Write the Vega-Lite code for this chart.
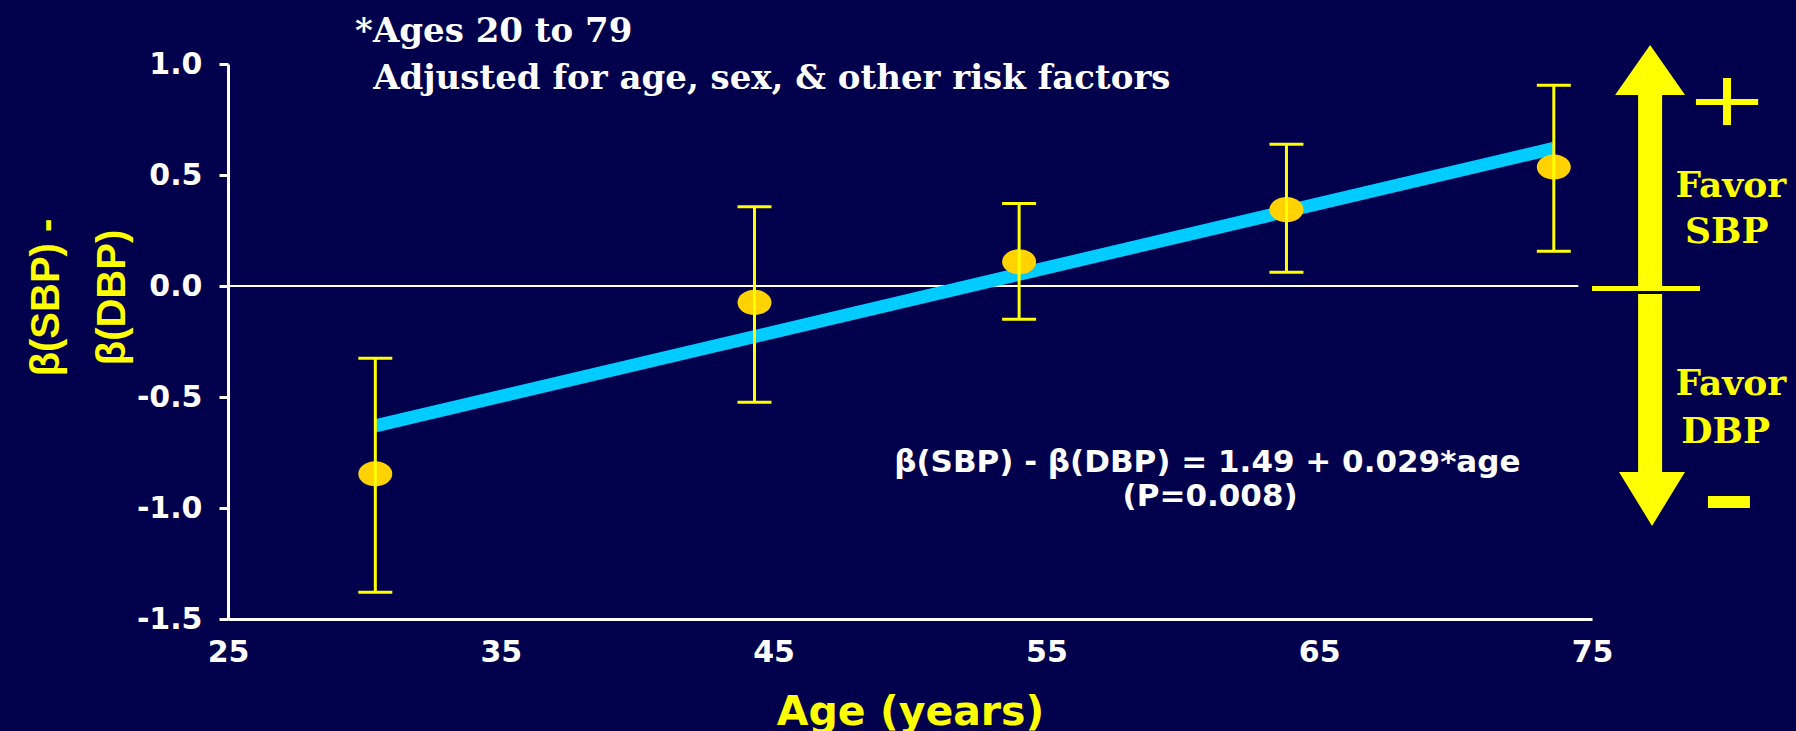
{
  "$schema": "https://vega.github.io/schema/vega-lite/v6.json",
  "width": 1364,
  "height": 555,
  "autosize": {"type": "none"},
  "padding": {"left": 228, "top": 64, "right": 204, "bottom": 112},
  "background": "#00004C",
  "config": {"view": {"stroke": null}, "axis": {"grid": false}},
  "datasets": {
    "groups": [
      {"age": 30.4, "val": -0.846, "lo": -1.38, "hi": -0.326},
      {"age": 44.3, "val": -0.074, "lo": -0.524, "hi": 0.357},
      {"age": 54.0, "val": 0.109, "lo": -0.15, "hi": 0.372},
      {"age": 63.8, "val": 0.344, "lo": 0.062, "hi": 0.638},
      {"age": 73.6, "val": 0.536, "lo": 0.156, "hi": 0.904}
    ],
    "fit": [
      {"age": 30.4, "val": -0.63},
      {"age": 73.6, "val": 0.62}
    ]
  },
  "encoding": {
    "x": {
      "field": "age",
      "type": "quantitative",
      "scale": {"domain": [25, 75], "nice": false, "zero": false},
      "axis": {
        "title": "Age (years)",
        "values": [25, 35, 45, 55, 65, 75],
        "ticks": false,
        "tickSize": 0,
        "domainColor": "#FFFFFF",
        "domainWidth": 3,
        "labelColor": "#FFFFFF",
        "labelFont": "DejaVu Sans",
        "labelFontWeight": "bold",
        "labelFontSize": 30,
        "labelPadding": 18,
        "labelFlush": false,
        "labelOverlap": false,
        "titleColor": "#FFFF00",
        "titleFont": "DejaVu Sans",
        "titleFontWeight": "bold",
        "titleFontSize": 41,
        "titleBaseline": "alphabetic",
        "titleY": 105
      }
    },
    "y": {
      "field": "val",
      "type": "quantitative",
      "scale": {"domain": [-1.5, 1], "nice": false, "zero": false},
      "axis": {
        "title": ["β(SBP) -", "β(DBP)"],
        "values": [-1.5, -1, -0.5, 0, 0.5, 1],
        "labelExpr": "replace(format(datum.value, '.1f'), '−', '-')",
        "tickColor": "#FFFFFF",
        "tickSize": 9,
        "tickWidth": 3,
        "domainColor": "#FFFFFF",
        "domainWidth": 3,
        "labelColor": "#FFFFFF",
        "labelFont": "DejaVu Sans",
        "labelFontWeight": "bold",
        "labelFontSize": 30,
        "labelPadding": 17,
        "labelFlush": false,
        "labelOverlap": false,
        "titleColor": "#FFFF00",
        "titleFont": "Liberation Sans",
        "titleFontWeight": "bold",
        "titleFontSize": 40,
        "titleAngle": 270,
        "titleAlign": "center",
        "titleBaseline": "alphabetic",
        "titleX": -170,
        "titleY": 233,
        "titleLineHeight": 66
      }
    }
  },
  "layer": [
    {
      "data": {"values": [{"age": 25, "age2": 74.5, "val": 0}]},
      "mark": {"type": "rule", "color": "#FFFFFF", "strokeWidth": 2},
      "encoding": {"x2": {"field": "age2"}}
    },
    {
      "data": {"name": "fit"},
      "mark": {"type": "line", "color": "#00CCFF", "strokeWidth": 13, "strokeCap": "butt"},
      "encoding": {}
    },
    {
      "data": {"name": "groups"},
      "mark": {
        "type": "point",
        "filled": true,
        "opacity": 1,
        "color": "#FFD200",
        "size": 1156,
        "shape": "M-1,0A1,0.74,0,1,1,1,0A1,0.74,0,1,1,-1,0Z"
      },
      "encoding": {}
    },
    {
      "data": {"name": "groups"},
      "mark": {"type": "rule", "color": "#FFFF00", "strokeWidth": 3},
      "encoding": {"y": {"field": "lo"}, "y2": {"field": "hi"}}
    },
    {
      "data": {"name": "groups"},
      "mark": {"type": "tick", "orient": "horizontal", "color": "#FFFF00", "size": 34, "thickness": 3, "opacity": 1},
      "encoding": {"y": {"field": "lo"}}
    },
    {
      "data": {"name": "groups"},
      "mark": {"type": "tick", "orient": "horizontal", "color": "#FFFF00", "size": 34, "thickness": 3, "opacity": 1},
      "encoding": {"y": {"field": "hi"}}
    },
    {
      "data": {"values": [
        {"age": 77.13, "val": 0.86, "val2": 0.0},
        {"age": 77.13, "val": -0.036, "val2": -0.838}
      ]},
      "mark": {"type": "rule", "color": "#FFFF00", "strokeWidth": 24, "strokeCap": "butt"},
      "encoding": {"y2": {"field": "val2"}}
    },
    {
      "data": {"values": [{"age": 75.0, "age2": 78.96, "val": -0.011}]},
      "mark": {"type": "rule", "color": "#FFFF00", "strokeWidth": 5, "strokeCap": "butt"},
      "encoding": {"x2": {"field": "age2"}}
    },
    {
      "data": {"values": [{"age": 77.13, "val": 0.973}]},
      "mark": {
        "type": "point",
        "filled": true,
        "opacity": 1,
        "color": "#FFFF00",
        "size": 4900,
        "shape": "M0,-0.714L1,0.714L-1,0.714Z"
      },
      "encoding": {}
    },
    {
      "data": {"values": [{"age": 77.2, "val": -0.959}]},
      "mark": {
        "type": "point",
        "filled": true,
        "opacity": 1,
        "color": "#FFFF00",
        "size": 4356,
        "shape": "M0,0.818L1,-0.818L-1,-0.818Z"
      },
      "encoding": {}
    },
    {
      "data": {"values": [{"age": 78.81, "age2": 81.09, "val": 0.829}]},
      "mark": {"type": "rule", "color": "#FFFF00", "strokeWidth": 6, "strokeCap": "butt"},
      "encoding": {"x2": {"field": "age2"}}
    },
    {
      "data": {"values": [{"age": 79.95, "val": 0.937, "val2": 0.725}]},
      "mark": {"type": "rule", "color": "#FFFF00", "strokeWidth": 8, "strokeCap": "butt"},
      "encoding": {"y2": {"field": "val2"}}
    },
    {
      "data": {"values": [{"age": 79.25, "age2": 80.79, "val": -0.973}]},
      "mark": {"type": "rule", "color": "#FFFF00", "strokeWidth": 12, "strokeCap": "butt"},
      "encoding": {"x2": {"field": "age2"}}
    },
    {
      "data": {"values": [
        {"age": 80.09, "val": 0.401, "label": "Favor"},
        {"age": 79.94, "val": 0.194, "label": "SBP"},
        {"age": 80.09, "val": -0.491, "label": "Favor"},
        {"age": 79.9, "val": -0.707, "label": "DBP"}
      ]},
      "mark": {
        "type": "text",
        "color": "#FFFF00",
        "font": "DejaVu Serif",
        "fontWeight": "bold",
        "fontSize": 36,
        "align": "center",
        "baseline": "alphabetic"
      },
      "encoding": {"text": {"field": "label"}}
    },
    {
      "data": {"values": [
        {"age": 29.66, "val": 1.099, "label": "*Ages 20 to 79"},
        {"age": 30.32, "val": 0.887, "label": "Adjusted for age, sex, & other risk factors"}
      ]},
      "mark": {
        "type": "text",
        "color": "#FFFFFF",
        "font": "DejaVu Serif",
        "fontWeight": "bold",
        "fontSize": 34,
        "align": "left",
        "baseline": "alphabetic"
      },
      "encoding": {"text": {"field": "label"}}
    },
    {
      "data": {"values": [
        {"age": 60.9, "val": -0.838, "label": "β(SBP) - β(DBP) = 1.49 + 0.029*age"},
        {"age": 61.0, "val": -0.99, "label": "(P=0.008)"}
      ]},
      "mark": {
        "type": "text",
        "color": "#FFFFFF",
        "font": "DejaVu Sans",
        "fontWeight": "bold",
        "fontSize": 31,
        "align": "center",
        "baseline": "alphabetic"
      },
      "encoding": {"text": {"field": "label"}}
    }
  ]
}
